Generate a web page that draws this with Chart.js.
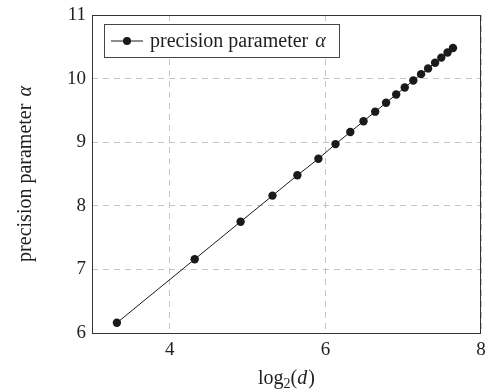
<!DOCTYPE html>
<html>
<head>
<meta charset="utf-8">
<script src="https://cdn.jsdelivr.net/npm/chart.js@4"></script>
<style>
  html, body { margin: 0; padding: 0; background: #fff; }
  canvas { display: block; }
</style>
</head>
<body>
<canvas id="alphaChart" width="488" height="391"></canvas>
<script>
// 読み取ったデータ (log2(d) と precision parameter α)
const log2d = [3.32, 4.32, 4.91, 5.32, 5.64, 5.91, 6.13, 6.32, 6.49, 6.64,
               6.78, 6.91, 7.02, 7.13, 7.23, 7.32, 7.41, 7.49, 7.57, 7.64];
const alphaValues = [6.16, 7.16, 7.75, 8.16, 8.48, 8.74, 8.97, 9.16, 9.33, 9.48,
                     9.62, 9.75, 9.86, 9.97, 10.07, 10.16, 10.25, 10.33, 10.41, 10.48];
const xTicks = [4, 6, 8];
const yTicks = [6, 7, 8, 9, 10, 11];
const seriesLabel = 'precision parameter';

const SERIF = '"Liberation Serif", "DejaVu Serif", serif';
const INK = '#1a1a1a';
const FS = 20; // 凡例・軸タイトルの文字サイズ

// 枠線・凡例・軸タイトルをまとめて描くプラグイン
const frameAndLabels = {
    id: 'frameAndLabels',
    afterDraw(chart) {
        const { ctx, chartArea: a } = chart;
        ctx.save();

        // 外枠
        ctx.strokeStyle = '#333';
        ctx.lineWidth = 1;
        ctx.setLineDash([]);
        ctx.strokeRect(a.left + 0.5, a.top + 0.5, a.right - a.left - 1, a.bottom - a.top);

        // 凡例
        const lx = a.left + 12, ly = a.top + 9, lw = 235, lh = 33;
        ctx.fillStyle = '#fff';
        ctx.fillRect(lx, ly, lw, lh);
        ctx.strokeStyle = '#444';
        ctx.strokeRect(lx + 0.5, ly + 0.5, lw, lh);
        const my = ly + lh / 2 + 0.5;
        ctx.strokeStyle = INK;
        ctx.beginPath();
        ctx.moveTo(lx + 7, my);
        ctx.lineTo(lx + 39, my);
        ctx.stroke();
        ctx.fillStyle = INK;
        ctx.beginPath();
        ctx.arc(lx + 23, my, 4, 0, Math.PI * 2);
        ctx.fill();
        ctx.font = FS + 'px ' + SERIF;
        ctx.textBaseline = 'middle';
        ctx.textAlign = 'left';
        ctx.fillStyle = '#1e1e1e';
        ctx.fillText(seriesLabel + ' ', lx + 46, my + 1);
        const w1 = ctx.measureText(seriesLabel + ' ').width;
        ctx.font = 'italic ' + FS + 'px ' + SERIF;
        ctx.fillText('α', lx + 46 + w1 + 2, my + 1);

        // x軸タイトル log2(d)
        const cx = (a.left + a.right) / 2;
        const base = 384;
        ctx.font = FS + 'px ' + SERIF;
        const wLog = ctx.measureText('log').width;
        ctx.font = '14px ' + SERIF;
        const wSub = ctx.measureText('2').width;
        ctx.font = FS + 'px ' + SERIF;
        const wOpen = ctx.measureText('(').width;
        ctx.font = 'italic ' + FS + 'px ' + SERIF;
        const wD = ctx.measureText('d').width;
        ctx.font = FS + 'px ' + SERIF;
        const wClose = ctx.measureText(')').width;
        let x = cx - (wLog + wSub + wOpen + wD + wClose + 1) / 2;
        ctx.textBaseline = 'alphabetic';
        ctx.fillText('log', x, base); x += wLog;
        ctx.font = '14px ' + SERIF;
        ctx.fillText('2', x, base + 4); x += wSub;
        ctx.font = FS + 'px ' + SERIF;
        ctx.fillText('(', x, base); x += wOpen;
        ctx.font = 'italic ' + FS + 'px ' + SERIF;
        ctx.fillText('d', x, base); x += wD + 1;
        ctx.font = FS + 'px ' + SERIF;
        ctx.fillText(')', x, base);

        // y軸タイトル
        ctx.translate(26, (a.top + a.bottom) / 2);
        ctx.rotate(-Math.PI / 2);
        ctx.textBaseline = 'middle';
        ctx.font = FS + 'px ' + SERIF;
        const wy1 = ctx.measureText(seriesLabel + ' ').width;
        ctx.font = 'italic ' + FS + 'px ' + SERIF;
        const wy2 = ctx.measureText('α').width;
        const yx = -(wy1 + wy2 + 2) / 2;
        ctx.font = FS + 'px ' + SERIF;
        ctx.fillText(seriesLabel + ' ', yx, 0);
        ctx.font = 'italic ' + FS + 'px ' + SERIF;
        ctx.fillText('α', yx + wy1 + 2, 0);

        ctx.restore();
    }
};

const points = log2d.map((v, i) => ({ x: v, y: alphaValues[i] }));

const config = {
    type: 'scatter',
    data: {
        datasets: [{
            label: seriesLabel,
            data: points,
            showLine: true,
            borderColor: INK,
            borderWidth: 1,
            backgroundColor: INK,
            pointRadius: 4.2,
            pointBorderWidth: 0,
            pointBackgroundColor: INK
        }]
    },
    options: {
        responsive: false,
        animation: false,
        layout: {
            padding: { top: 15, right: 7, left: 0, bottom: 0 }
        },
        scales: {
            x: {
                type: 'linear',
                min: 3,
                max: 8,
                afterBuildTicks: scale => { scale.ticks = xTicks.map(v => ({ value: v })); },
                afterFit: scale => {
                    scale.height = 58;
                    scale.paddingLeft = 0;  // ラベルのはみ出し分で描画領域が縮まないように
                    scale.paddingRight = 0;
                },
                grid: {
                    color: '#c4c4c4',
                    lineWidth: 1,
                    drawTicks: false
                },
                border: { display: false, dash: [6, 5] },
                ticks: {
                    color: '#1e1e1e',
                    padding: 6,
                    font: { family: SERIF, size: 19 }
                }
            },
            y: {
                type: 'linear',
                min: 6,
                max: 11,
                afterBuildTicks: scale => { scale.ticks = yTicks.map(v => ({ value: v })); },
                afterFit: scale => {
                    scale.width = 92;
                    scale.paddingTop = 0;
                    scale.paddingBottom = 0;
                },
                grid: {
                    color: '#c4c4c4',
                    lineWidth: 1,
                    drawTicks: false
                },
                border: { display: false, dash: [6, 5] },
                ticks: {
                    color: '#1e1e1e',
                    padding: 6,
                    font: { family: SERIF, size: 19 }
                }
            }
        },
        plugins: {
            legend: { display: false },
            tooltip: { enabled: false }
        }
    },
    plugins: [frameAndLabels]
};

new Chart(document.getElementById('alphaChart').getContext('2d'), config);
</script>
</body>
</html>
